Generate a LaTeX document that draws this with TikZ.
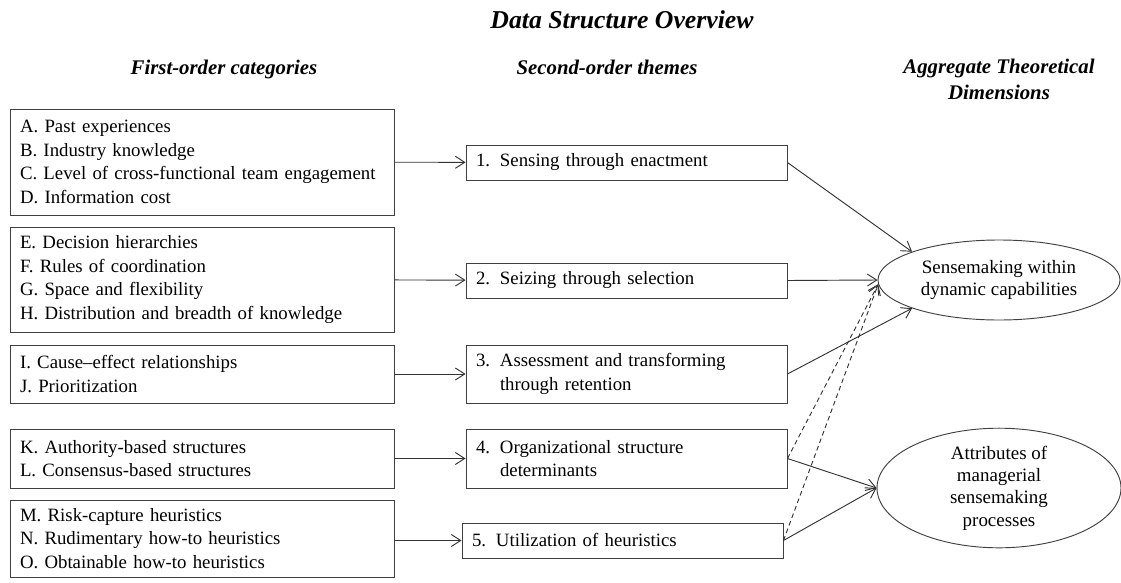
\documentclass[tikz,border=0pt]{standalone}
\usepackage{fontspec}
\setmainfont{Liberation Serif}
\usepackage{tikz}
\usetikzlibrary{arrows.meta, shapes.geometric}
\tikzset{>={Straight Barb[length=7pt,width=9pt]}}
\tikzset{
  cat/.style={draw=black!75, line width=0.7pt, rectangle, align=left,
    inner xsep=7.5pt, text width=273pt,
    font=\fontsize{14.1pt}{17.6pt}\selectfont},
  theme/.style={cat, text width=225.75pt},
  dim/.style={draw=black!75, line width=0.7pt, ellipse, inner sep=0pt, align=center,
    font=\fontsize{14.2pt}{16.8pt}\selectfont},
  head/.style={anchor=base, align=center,
    font=\fontsize{15.6pt}{19pt}\selectfont\bfseries\itshape},
  link/.style={->, draw=black!80, line width=0.7pt},
  dlink/.style={link, dash pattern=on 3.5pt off 2.5pt}
}
\newcommand{\thmno}[1]{\makebox[18pt][l]{#1}}

\begin{document}
\begin{tikzpicture}[x=0.75pt, y=-0.75pt]
\useasboundingbox (0,0) rectangle (1121,582);

\node[head, font=\fontsize{19.3pt}{23pt}\selectfont\bfseries\itshape] (title) at (622,28) {Data Structure Overview};
\node[head] (H1) at (224,74) {First-order categories};
\node[head] (H2) at (607,74) {Second-order themes};
\node[head] (H3) at (999,99) {Aggregate Theoretical\\Dimensions};

\node[cat, minimum height=79.5pt] (C1) at (202,162) {A. Past experiences\\B. Industry knowledge\\C. Level of cross-functional team engagement\\D. Information cost};
\node[cat, minimum height=78.75pt] (C2) at (202,279.5) {E. Decision hierarchies\\F. Rules of coordination\\G. Space and flexibility\\H. Distribution and breadth of knowledge};
\node[cat, minimum height=43.5pt] (C3) at (202,374) {I. Cause--effect relationships\\J. Prioritization};
\node[cat, minimum height=44.25pt] (C4) at (202,458.5) {K. Authority-based structures\\L. Consensus-based structures};
\node[cat, minimum height=57.75pt] (C5) at (202,538.5) {M. Risk-capture heuristics\\N. Rudimentary how-to heuristics\\O. Obtainable how-to heuristics};

\node[theme, minimum height=26.25pt] (T1) at (626.5,162.5) {\thmno{1.}Sensing through enactment};
\node[theme, minimum height=26.25pt] (T2) at (626.5,280.5) {\thmno{2.}Seizing through selection};
\node[theme, minimum height=43.5pt] (T3) at (626.5,374) {\thmno{3.}Assessment and transforming\\\hspace*{18pt}through retention};
\node[theme, minimum height=44.25pt] (T4) at (626.5,458.5) {\thmno{4.}Organizational structure\\\hspace*{18pt}determinants};
\node[theme, minimum height=26.25pt] (T5) at (622.5,540.5) {\thmno{5.}Utilization of heuristics};

\node[dim, minimum width=181.5pt, minimum height=60pt] (D1) at (999,280) {Sensemaking within\\dynamic capabilities};
\node[dim, minimum width=183pt, minimum height=75pt] (D2) at (999,488) {Attributes of\\managerial\\sensemaking\\processes};

\draw[link] (C1) -- (T1);
\draw[link] (C2) -- (T2);
\draw[link] (C3) -- (T3);
\draw[link] (C4) -- (T4);
\draw[link] (C5.east |- T5.west) -- (T5);

\draw[link] (T1.east) -- (D1.162);
\draw[link] (T2.east) -- (D1.west);
\draw[link] (T3.east) -- (D1.198);
\draw[link] (T4.east) -- (D2.west);
\draw[link] (T5.east) -- (D2.west);
\draw[dlink] (T4.east) -- (D1.182);
\draw[dlink] (T5.east) -- (D1.182);

\end{tikzpicture}
\end{document}
